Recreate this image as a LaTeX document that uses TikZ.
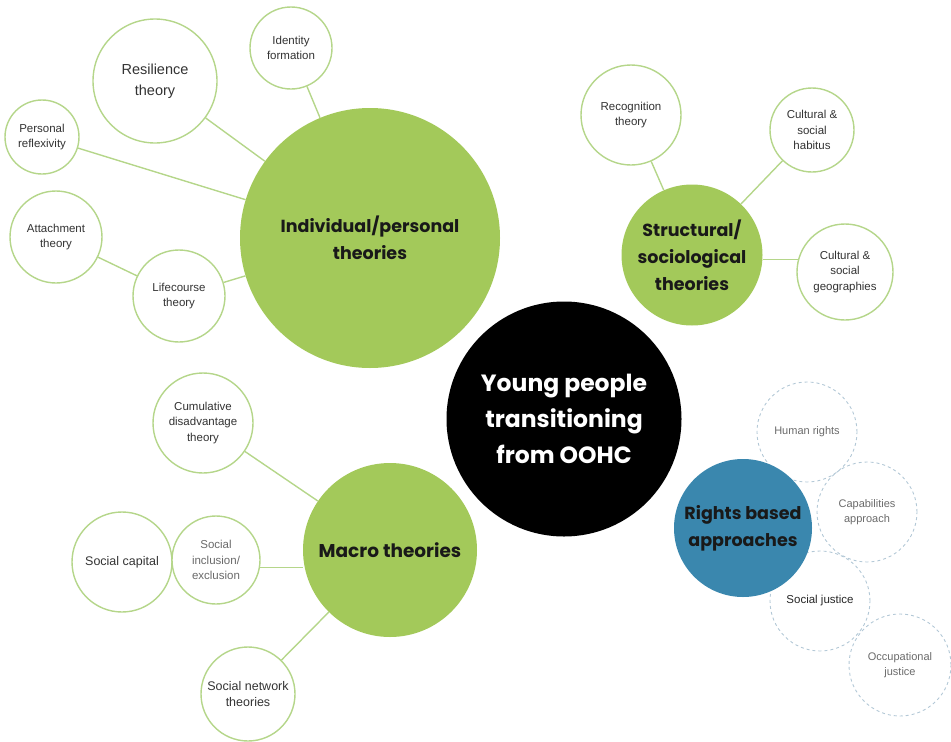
\documentclass[tikz,border=0pt]{standalone}
\usepackage{fontspec}
\setmainfont{Liberation Sans}
\newfontfamily\headfont{Poppins}
\usepackage{tikz}

\definecolor{leafgreen}{HTML}{A3C95A}
\definecolor{rimgreen}{HTML}{B5D68A}
\definecolor{rightsblue}{HTML}{3A87AE}
\definecolor{dashblue}{HTML}{B3C8D6}
\definecolor{softgrey}{HTML}{6A6A6A}

\begin{document}
\begin{tikzpicture}[x = 1pt, y = -1pt,
		hub/.style = {circle, fill = leafgreen, inner sep = 0pt, align = center,
			font = \headfont\bfseries\fontsize{17.5}{27}\selectfont, text = black!90},
		leaf/.style = {circle, draw = rimgreen, line width = 1.4pt, fill = white, inner sep = 0pt,
			align = center, font = \fontsize{11.5}{15.5}\selectfont, text = black!80},
		dashleaf/.style = {circle, draw = dashblue, dashed, line width = 0.9pt, inner sep = 0pt,
			align = center, font = \fontsize{11}{15}\selectfont, text = softgrey},
		link/.style = {draw = rimgreen, line width = 1.4pt}]
	
		\useasboundingbox (0, 0) rectangle (951, 742);
		
		\node[hub, minimum size = 260pt] (indiv) at (370, 238) {Individual/personal\\theories};
		\node[hub, minimum size = 141pt] (struct) at (692, 255) {Structural/\\sociological\\theories};
		\node[hub, minimum size = 174pt, font = \headfont\bfseries\fontsize{18.5}{27}\selectfont] (macro) at (390, 550) {Macro theories};
		
		\node[circle, fill = black, minimum size = 235pt, inner sep = 0pt, align = center, text = white,
			font = \headfont\bfseries\fontsize{23.5}{36}\selectfont] (centre) at (564, 419)
			{Young people\\transitioning\\from OOHC};
		
		\node[leaf, minimum size = 82pt] (ident) at (291, 48) {Identity\\formation};
		\node[leaf, minimum size = 124pt, font = \fontsize{14.5}{21}\selectfont] (resil) at (155, 81) {Resilience\\theory};
		\node[leaf, minimum size = 74pt] (reflex) at (42, 137) {Personal\\reflexivity};
		\node[leaf, minimum size = 92pt] (attach) at (56, 237) {Attachment\\theory};
		\node[leaf, minimum size = 92pt] (lifec) at (179, 296) {Lifecourse\\theory};
		
		\draw[link] (ident) -- (indiv);
		\draw[link] (resil) -- (indiv);
		\draw[link] (reflex) -- (indiv);
		\draw[link] (attach) -- (lifec);
		\draw[link] (lifec) -- (indiv);
		
		\node[leaf, minimum size = 100pt] (recog) at (631, 115) {Recognition\\theory};
		\node[leaf, minimum size = 84pt] (habit) at (812, 130) {Cultural \&\\social\\habitus};
		\node[leaf, minimum size = 96pt] (geog) at (845, 272) {Cultural \&\\social\\geographies};
		
		\draw[link] (recog) -- (struct);
		\draw[link] (habit) -- (struct);
		\draw[link] (geog.165) -- (geog.165 -| struct.east);
		
		\node[leaf, minimum size = 100pt] (cumul) at (203, 423) {Cumulative\\disadvantage\\theory};
		\node[leaf, minimum size = 100pt, font = \fontsize{12.5}{16}\selectfont] (capital) at (122, 562) {Social capital};
		\node[leaf, minimum size = 88pt, text = softgrey] (inclus) at (216, 560) {Social\\inclusion/\\exclusion};
		\node[leaf, minimum size = 94pt, font = \fontsize{12.5}{16}\selectfont] (netw) at (248, 694) {Social network\\theories};
		
		\draw[link] (cumul) -- (macro);
		\draw[link] (inclus.-10) -- (inclus.-10 -| macro.west);
		\draw[link] (netw) -- (macro);
		
		\node[dashleaf, minimum size = 100pt] (human) at (807, 432) {Human rights};
		\node[dashleaf, minimum size = 100pt] (capab) at (867, 512) {Capabilities\\approach};
		\node[dashleaf, minimum size = 100pt, text = black!85, font = \fontsize{11.5}{14}\selectfont] (justice) at (820, 601) {Social justice};
		\node[dashleaf, minimum size = 102pt] (occup) at (900, 665) {Occupational\\justice};
		
		\node[hub, fill = rightsblue, minimum size = 138pt] (rights) at (743, 528) {Rights based\\approaches};
		
	\end{tikzpicture}
\end{document}
